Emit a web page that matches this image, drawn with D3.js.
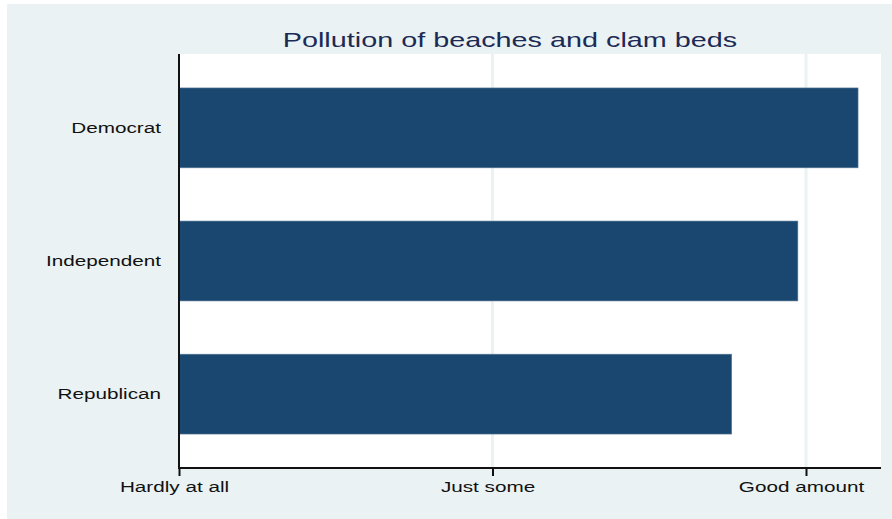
<!DOCTYPE html>
<html>
<head>
<meta charset="utf-8">
<script src="https://cdn.jsdelivr.net/npm/d3@7"></script>
<style>
  body { margin: 0; background: #fff; }
  text { font-family: "Liberation Sans", Arial, sans-serif; }
</style>
</head>
<body>
<div id="chart"></div>
<script>
var parties = ["Democrat", "Independent", "Republican"];
var concern = [3.166, 2.974, 2.763];
var tickValues = [1, 2, 3];
var tickLabels = ["Hardly at all", "Just some", "Good amount"];
var title = "Pollution of beaches and clam beds";

var W = 892, H = 519;
var plot = {left: 179, right: 881, top: 54, bottom: 468};
// the original is stretched sideways, so the text is too
var stretch = 1.38;

var svg = d3.select("#chart").append("svg")
    .attr("width", W)
    .attr("height", H);

// outer graph region
svg.append("rect")
    .attr("x", 7).attr("y", 4)
    .attr("width", W - 7).attr("height", H - 4)
    .attr("fill", "#eaf2f3");

// plot region
svg.append("rect")
    .attr("x", plot.left).attr("y", plot.top)
    .attr("width", plot.right - plot.left)
    .attr("height", plot.bottom - plot.top)
    .attr("fill", "#fff");

var x = d3.scaleLinear().domain([1, 3]).range([plot.left, 806]);

var y = d3.scaleBand()
    .domain(parties)
    .range([plot.top, plot.bottom])
    .paddingInner(0.4)
    .paddingOuter(0.255);

// grid lines
svg.append("g")
  .selectAll("line")
  .data(tickValues.slice(1))
  .enter().append("line")
    .attr("x1", function(d) { return x(d); })
    .attr("x2", function(d) { return x(d); })
    .attr("y1", plot.top)
    .attr("y2", plot.bottom)
    .attr("stroke", "#eaf2f3")
    .attr("stroke-width", 3);

// bars
svg.append("g")
  .selectAll("rect")
  .data(parties)
  .enter().append("rect")
    .attr("x", x(1))
    .attr("y", function(d) { return y(d); })
    .attr("width", function(d, i) { return x(concern[i]) - x(1); })
    .attr("height", y.bandwidth())
    .attr("fill", "#1a476f")
    .attr("stroke", "#5d7d99")
    .attr("stroke-width", 0.6);

// x axis
var xAxis = d3.axisBottom(x)
    .tickValues(tickValues)
    .tickFormat(function(d, i) { return tickLabels[i]; })
    .tickSize(8)
    .tickPadding(5);

var gx = svg.append("g")
    .attr("transform", "translate(0," + plot.bottom + ")")
    .call(xAxis);
gx.select(".domain").remove();
gx.append("line")
    .attr("x1", plot.left - 1).attr("x2", plot.right)
    .attr("stroke", "#111").attr("stroke-width", 2);
gx.selectAll(".tick line").attr("stroke", "#111").attr("stroke-width", 2);
gx.selectAll(".tick text")
    .attr("fill", "#111")
    .attr("x", -5 / stretch)
    .attr("transform", "scale(" + stretch + ",1)")
    .style("font-size", "15px");

// y axis
var yAxis = d3.axisLeft(y).tickSize(0).tickPadding(18 / stretch);
var gy = svg.append("g")
    .attr("transform", "translate(" + plot.left + ",0)")
    .call(yAxis);
gy.select(".domain").remove();
gy.append("line")
    .attr("y1", plot.top).attr("y2", plot.bottom + 1)
    .attr("stroke", "#111").attr("stroke-width", 2);
gy.selectAll(".tick text")
    .attr("fill", "#111")
    .attr("transform", "scale(" + stretch + ",1)")
    .style("font-size", "15px");

// title
svg.append("text")
    .attr("transform", "translate(510,47) scale(1.44,1)")
    .attr("text-anchor", "middle")
    .attr("fill", "#1c2a55")
    .style("font-size", "20px")
    .text(title);
</script>
</body>
</html>
